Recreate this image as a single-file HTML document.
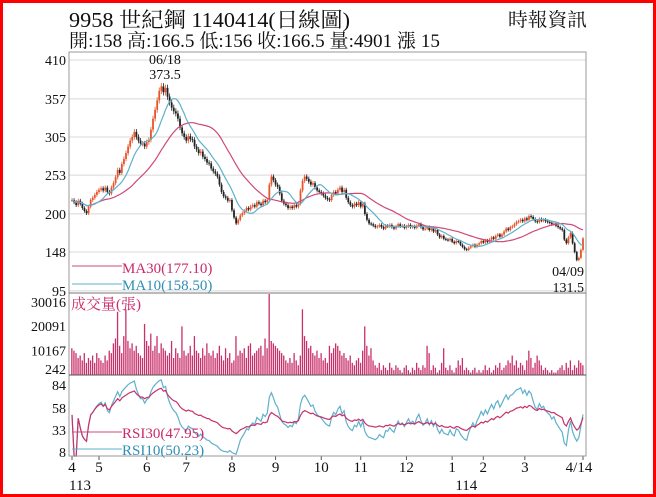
<!DOCTYPE html>
<html><head><meta charset="utf-8"><style>
html,body{margin:0;padding:0;background:#fff}
svg{display:block}
text{font-family:"Liberation Serif","Noto Serif CJK SC",serif}
</style></head><body>
<svg id="c" width="656" height="497" viewBox="0 0 656 497" xmlns="http://www.w3.org/2000/svg">
<rect x="1.5" y="1.5" width="653" height="494" fill="#fff" stroke="#ff0000" stroke-width="3"/>
<text x="69" y="27" font-size="21" textLength="281" lengthAdjust="spacingAndGlyphs" fill="#111">9958 世紀鋼 1140414(日線圖)</text>
<text x="69" y="47" font-size="19" textLength="371" lengthAdjust="spacingAndGlyphs" fill="#111">開:158 高:166.5 低:156 收:166.5 量:4901 漲 15</text>
<text x="508" y="26" font-size="19" textLength="79" lengthAdjust="spacingAndGlyphs" fill="#111">時報資訊</text>
<g id="grid"></g>
<g id="price"></g>
<g id="vol"></g>
<g id="rsi"></g>
<g id="xax"></g>
<rect x="69" y="52" width="517" height="404" fill="none" stroke="#999" stroke-width="1"/>
<line x1="69" y1="293" x2="586" y2="293" stroke="#777"/>
<line x1="69" y1="375" x2="586" y2="375" stroke="#555"/>
<text x="165" y="64" font-size="14" text-anchor="middle" fill="#111">06/18</text>
<text x="165" y="79" font-size="14" text-anchor="middle" fill="#111">373.5</text>
<text x="584" y="276" font-size="14" text-anchor="end" fill="#111">04/09</text>
<text x="584" y="292" font-size="14" text-anchor="end" fill="#111">131.5</text>
<line x1="72" y1="266" x2="122" y2="266" stroke="#d0487a"/>
<text x="122" y="273" font-size="15" fill="#cc2a68">MA30(177.10)</text>
<line x1="72" y1="284" x2="122" y2="284" stroke="#5fb0cc"/>
<text x="122" y="290" font-size="15" fill="#2f8fb5">MA10(158.50)</text>
<text x="71" y="309" font-size="15" fill="#cc2a68">成交量(張)</text>
<line x1="72" y1="432" x2="122" y2="432" stroke="#d0487a"/>
<text x="122" y="438" font-size="15" fill="#cc2a68">RSI30(47.95)</text>
<line x1="72" y1="449" x2="122" y2="449" stroke="#5fb0cc"/>
<text x="122" y="455" font-size="15" fill="#2f8fb5">RSI10(50.23)</text>
</svg>
<script>
const closes=[219,216,212,218,214,208,204,201,210,219,222,226,230,233,235,232,236,230,228,236,242,250,260,256,268,275,283,292,300,305,312,305,300,296,296,292,298,301,315,330,342,355,368,374,366,372,360,352,345,340,337,330,318,310,305,300,306,302,301,292,288,283,285,278,275,270,269,262,258,255,251,240,230,224,222,218,219,205,195,187,192,198,201,204,208,206,210,212,210,216,214,212,218,216,219,240,251,246,240,237,228,218,214,212,208,210,208,212,210,214,232,245,251,248,244,240,242,236,232,230,228,225,222,220,219,226,230,228,233,236,230,233,222,216,212,210,214,212,216,210,214,200,192,187,186,184,182,183,185,182,180,184,183,185,182,180,183,186,183,184,181,183,185,182,183,181,184,186,182,179,180,182,178,180,176,178,172,168,170,166,165,164,166,162,160,163,162,158,155,152,151,154,156,158,155,158,160,163,161,164,162,165,168,166,170,172,169,172,176,180,178,182,183,186,189,190,192,190,194,192,197,196,193,190,189,193,191,192,190,189,188,186,187,184,182,180,178,165,160,168,174,160,148,137,140,151,166.5];
const volumes=[11,10,9,7,8,6,9,5,7,6,8,5,9,7,6,5,8,6,10,9,13,15,26,12,9,16,27,14,11,13,10,12,9,8,7,21,14,12,17,10,12,16,9,13,11,10,8,9,14,7,11,9,7,20,10,8,9,12,8,16,10,9,7,11,8,13,9,8,10,7,9,12,8,6,11,7,9,5,6,16,8,10,9,11,7,12,13,8,9,10,11,12,8,15,11,34,14,13,12,11,10,9,8,6,5,7,5,9,6,4,8,27,16,14,11,12,9,8,10,7,9,6,7,5,12,9,11,13,12,10,8,9,7,6,8,5,4,6,7,5,10,20,12,8,11,6,4,3,5,2,4,3,2,5,3,2,4,3,2,1,3,4,2,1,3,2,5,3,2,4,3,12,9,2,4,3,1,2,5,11,3,2,4,2,1,3,6,4,7,2,3,2,1,2,3,1,2,1,2,4,2,3,1,2,4,3,5,2,3,4,6,5,8,4,6,3,5,4,2,6,10,7,3,5,8,6,4,2,3,2,1,2,1,1,2,3,4,2,5,3,6,2,4,3,6,5,4];
const priceTicks=[410,357,305,253,200,148,95];
const volTickLabels=["30016","20091","10167","242"];
const volTickValues=[30016,20091,10167,242];
const rsiTicks=[84,58,33,8];
const monthLabels=["4","5","6","7","8","9","10","11","12","1","2","3","4/14"];
const monthDays=[0,13,36,55,77,98,120,139,161,183,198,218,246];
const yearLabels=["113","114"];
const yearDays=[0,186];

const NS="http://www.w3.org/2000/svg";
const N=Math.min(closes.length,volumes.length);
const X0=69,X1=586;
const xS=d=>X0+3+d*(X1-X0-6)/(N-1);
const yP=p=>60+(410-p)*0.733;
const yV=v=>375-v*1000*73/30016;
const yR=r=>385+(84-r)*0.88;
function mk(tag,parent,attrs){const e=document.createElementNS(NS,tag);for(const k in attrs)e.setAttribute(k,attrs[k]);parent.appendChild(e);return e;}
const grid=document.getElementById('grid'),price=document.getElementById('price'),vol=document.getElementById('vol'),rsi=document.getElementById('rsi'),xax=document.getElementById('xax');

priceTicks.forEach(t=>{
  const l=mk('line',grid,{x1:X0,x2:X1,y1:yP(t),y2:yP(t),stroke:'#d8d8d8'});
  
  
  const tx=mk('text',grid,{x:66,y:yP(t)+5,'font-size':14,'text-anchor':'end',fill:'#111'});
  tx.textContent=String(t);
  
  
});
volTickValues.forEach((v,i)=>{
  const tx=mk('text',vol,{x:66,y:Math.min(yV(v/1000),369)+5,'font-size':14,'text-anchor':'end',fill:'#111'});
  tx.textContent=volTickLabels[i];
  
  
});
rsiTicks.forEach(r=>{
  const tx=mk('text',rsi,{x:66,y:yR(r)+5,'font-size':14,'text-anchor':'end',fill:'#111'});
  tx.textContent=String(r);
  
  
});

function ma(n){const o=[];for(let i=0;i<N;i++){const s=Math.max(0,i-n+1);let a=0;for(let j=s;j<=i;j++)a+=closes[j];o.push(a/(i-s+1));}return o;}
function rsiCalc(n){const o=[50];let ag=0,al=0;for(let i=1;i<N;i++){const c=closes[i]-closes[i-1];const g=c>0?c:0,l=c<0?-c:0;const k=Math.min(i,n);ag=(ag*(k-1)+g)/k;al=(al*(k-1)+l)/k;o.push(ag+al===0?50:100*ag/(ag+al));}return o;}
function line(g,arr,yf,col,name,clamp){
  const pts=arr.map((v,i)=>{let y=yf(v);if(clamp)y=Math.max(clamp[0],Math.min(clamp[1],y));return xS(i).toFixed(1)+','+y.toFixed(1);}).join(' ');
  const p=mk('polyline',g,{points:pts,fill:'none',stroke:col,'stroke-width':1.2});
  
  
}
for(let i=0;i<N;i++){
  const c=closes[i],o=i>0?closes[i-1]:c;
  const up=c>=o;
  const hi=Math.max(o,c)*1.012,lo=Math.min(o,c)*0.988;
  const col=up?'#e8542a':'#222';
  const x=xS(i);
  const w=mk('line',price,{x1:x,x2:x,y1:yP(hi),y2:yP(lo),stroke:col,'stroke-width':0.8});
  
  
  const b=mk('rect',price,{x:x-0.9,y:Math.min(yP(o),yP(c)),width:1.8,height:Math.max(1,Math.abs(yP(o)-yP(c))),fill:col});
  
  
}
line(price,ma(30),yP,'#d0487a','ma30-line');
line(price,ma(10),yP,'#5fb0cc','ma10-line');
for(let i=0;i<N;i++){
  const y=Math.max(294,yV(volumes[i]));
  const r=mk('rect',vol,{x:xS(i)-0.8,y:y,width:1.3,height:375-y,fill:'#c8306a'});
  
  
}
line(rsi,rsiCalc(10),yR,'#5fb0cc','rsi10-line',[376,456]);
line(rsi,rsiCalc(30),yR,'#c8306a','rsi30-line',[376,456]);
monthLabels.forEach((m,i)=>{
  const x=xS(monthDays[i]);
  const tk=mk('line',xax,{x1:x,x2:x,y1:456,y2:460,stroke:'#555'});
  
  
  const t=mk('text',xax,{x:i===monthLabels.length-1?x-4:x,y:472,'font-size':15,'text-anchor':'middle',fill:'#111'});
  t.textContent=m;
  
  
});
yearLabels.forEach((y,i)=>{
  const t=mk('text',xax,{x:xS(yearDays[i])-3,y:490,'font-size':15,fill:'#111'});
  t.textContent=y;
  
  
});
</script>
</body></html>
